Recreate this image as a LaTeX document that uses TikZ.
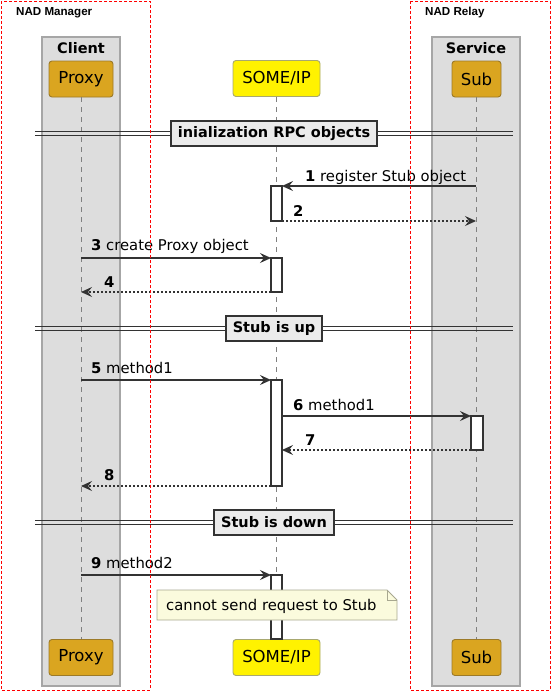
\documentclass[tikz,border=0pt]{standalone}
\usepackage{fontspec}
\setmainfont{DejaVu Sans}
\newfontfamily\hfont{Liberation Sans}
\usetikzlibrary{arrows.meta}
\definecolor{gold}{HTML}{DAA520}
\definecolor{goldline}{HTML}{9C7A28}
\definecolor{yelline}{HTML}{A8A870}
\definecolor{grpfill}{HTML}{DDDDDD}
\definecolor{grpline}{HTML}{A6A6A6}
\definecolor{notefill}{HTML}{FBFBDD}
\definecolor{noteline}{HTML}{A8A890}
\definecolor{ink}{HTML}{333333}
\tikzset{
  grp/.style={fill=grpfill,draw=grpline,line width=1.3pt},
  part/.style={draw,rounded corners=3pt,minimum width=#1,minimum height=36pt,inner sep=0pt,font=\fontsize{16.5}{18}\selectfont,line width=0.9pt},
  life/.style={draw=gray,dash pattern=on 5pt off 5pt,line width=0.9pt},
  actbox/.style={draw=ink,fill=white,line width=1.1pt},
  msg/.style={draw=ink,line width=1.1pt,-{Stealth[length=11pt,width=10pt,inset=4pt]}},
  ret/.style={msg,dash pattern=on 2pt off 2pt},
  lbl/.style={anchor=base west,inner sep=0pt,font=\fontsize{14.8}{16}\selectfont},
  sepline/.style={draw=ink,line width=1.5pt},
  sepbox/.style={draw=ink,fill=grpfill!60!white,line width=2.2pt,inner xsep=7pt,minimum height=25pt,font=\bfseries\fontsize{14.5}{16}\selectfont},
  zone/.style={draw=red,dash pattern=on 3pt off 2pt,line width=1pt},
  zonelbl/.style={anchor=base west,inner sep=0pt,font=\hfont\bfseries\fontsize{11.6}{13}\selectfont}
}
\begin{document}
\begin{tikzpicture}[x=1pt,y=-1pt]
\useasboundingbox (0,0) rectangle (551,691);
% group boxes
\draw[grp] (42,37) rectangle (120,686);
\draw[grp] (432,37) rectangle (520,686);
\node[font=\bfseries\fontsize{14.5}{16}\selectfont] (cl) at (81,48) {Client};
\node[font=\bfseries\fontsize{14.5}{16}\selectfont] (sv) at (476,48) {Service};
% participants
\node[part=64pt,fill=gold,draw=goldline] (proxyT) at (81,79) {Proxy};
\node[part=87pt,fill=yellow,draw=yelline] (someT) at (276.5,78.5) {SOME/IP};
\node[part=49pt,fill=gold,draw=goldline] (subT) at (476.5,79) {Sub};
\node[part=64pt,fill=gold,draw=goldline] (proxyB) at (81,657.5) {Proxy};
\node[part=87pt,fill=yellow,draw=yelline] (someB) at (276.5,657.5) {SOME/IP};
\node[part=49pt,fill=gold,draw=goldline] (subB) at (476.5,657.5) {Sub};
\draw[life] (proxyT) -- (proxyB);
\draw[life] (someT) -- (someB);
\draw[life] (subT) -- (subB);
% separators
\foreach \y/\t/\n in {133.5/inialization RPC objects/s1,328.5/Stub is up/s2,522.5/Stub is down/s3}{
  \draw[sepline] (35,\y-2) -- (513,\y-2);
  \draw[sepline] (35,\y+2) -- (513,\y+2);
  \node[sepbox] (\n) at (274,\y) {\t};
}
% activations
\draw[actbox] (271,186) rectangle (282,221);
\draw[actbox] (271,258) rectangle (282,292);
\draw[actbox] (271,380) rectangle (282,486);
\draw[actbox] (471,416) rectangle (483,450);
\draw[actbox] (271,575) rectangle (282,639);
% endpoints
\coordinate (pA) at (81,0);
\coordinate (sA) at (476,0);
\coordinate (aL) at (271,0);
\coordinate (aR) at (282,0);
\coordinate (bL) at (471,0);
% messages
\draw[msg] (sA |- 0,186) coordinate (m1s) -- (aR |- 0,186) coordinate (m1e);
\node[lbl] at (305,181) {\textbf{1} register Stub object};
\draw[ret] (aR |- 0,221) coordinate (m2s) -- (sA |- 0,221) coordinate (m2e);
\node[lbl] at (293,216) {\textbf{2}};
\draw[msg] (pA |- 0,258) coordinate (m3s) -- (aL |- 0,258) coordinate (m3e);
\node[lbl] at (91,250) {\textbf{3} create Proxy object};
\draw[ret] (aL |- 0,292) coordinate (m4s) -- (pA |- 0,292) coordinate (m4e);
\node[lbl] at (104,287) {\textbf{4}};
\draw[msg] (pA |- 0,380) coordinate (m5s) -- (aL |- 0,380) coordinate (m5e);
\node[lbl] at (91,373) {\textbf{5} method1};
\draw[msg] (aR |- 0,416) coordinate (m6s) -- (bL |- 0,416) coordinate (m6e);
\node[lbl] at (293,410) {\textbf{6} method1};
\draw[ret] (bL |- 0,450) coordinate (m7s) -- (aR |- 0,450) coordinate (m7e);
\node[lbl] at (305,445) {\textbf{7}};
\draw[ret] (aL |- 0,486) coordinate (m8s) -- (pA |- 0,486) coordinate (m8e);
\node[lbl] at (104,480) {\textbf{8}};
\draw[msg] (pA |- 0,575) coordinate (m9s) -- (aL |- 0,575) coordinate (m9e);
\node[lbl] at (91,568) {\textbf{9} method2};
% note
\draw[fill=notefill,draw=noteline,line width=0.8pt] (157,590) -- (387,590) -- (397,600) -- (397,620) -- (157,620) -- cycle;
\draw[draw=noteline,line width=0.8pt] (387,590) -- (387,600) -- (397,600);
\node[anchor=west,inner sep=0pt,font=\fontsize{14.8}{16}\selectfont] (note) at (166,606) {cannot send request to Stub};
% zones
\draw[zone] (1,1) rectangle (150,690);
\draw[zone] (410,1) rectangle (550,690);
\node[zonelbl] (z1) at (16,15) {NAD Manager};
\node[zonelbl] (z2) at (425,15) {NAD Relay};
\end{tikzpicture}
\end{document}
